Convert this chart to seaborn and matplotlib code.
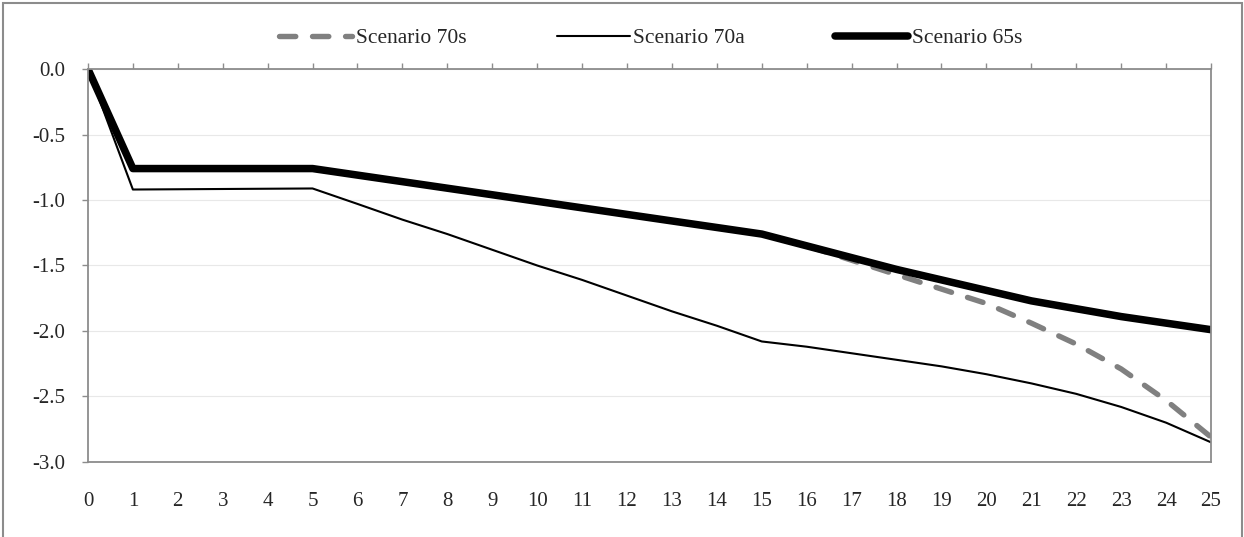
import matplotlib
matplotlib.use("Agg")
import matplotlib.pyplot as plt
import seaborn as sns
import pandas as pd
from matplotlib.patches import Rectangle

years = list(range(0, 26))
s70s = [0.0, -0.76, -0.76, -0.76, -0.76, -0.76, -0.81, -0.86, -0.91, -0.96, -1.01,
        -1.06, -1.11, -1.16, -1.21, -1.26, -1.35, -1.46, -1.57, -1.68, -1.79,
        -1.94, -2.10, -2.29, -2.53, -2.81]
s70a = [0.0, -0.92, -0.918, -0.916, -0.914, -0.912, -1.03, -1.15, -1.26, -1.38, -1.50,
        -1.61, -1.73, -1.85, -1.96, -2.08, -2.12, -2.17, -2.22, -2.27, -2.33,
        -2.40, -2.48, -2.58, -2.70, -2.85]
s65s = [0.0, -0.76, -0.76, -0.76, -0.76, -0.76, -0.81, -0.86, -0.91, -0.96, -1.01,
        -1.06, -1.11, -1.16, -1.21, -1.26, -1.35, -1.44, -1.53, -1.61, -1.69,
        -1.77, -1.83, -1.89, -1.94, -1.99]

df = pd.DataFrame({"year": years, "Scenario 70s": s70s,
                   "Scenario 70a": s70a, "Scenario 65s": s65s})

sns.set_style("white")
plt.rcParams["font.family"] = ["Liberation Serif", "DejaVu Serif"]

fig = plt.figure(figsize=(12.44, 5.37), dpi=100)
ax = fig.add_axes([0.0707, 0.1397, 0.9028, 0.7318])

ax.yaxis.grid(True, color="#e8e8e8", linewidth=0.8)
ax.set_axisbelow(True)

# dashed one first so the thick line sits on top of it
sns.lineplot(data=df, x="year", y="Scenario 70s", ax=ax, color="#808080",
             linewidth=3.9, label="Scenario 70s", dashes=(3.0, 3.1),
             dash_capstyle="round")
sns.lineplot(data=df, x="year", y="Scenario 70a", ax=ax, color="black",
             linewidth=1.5, label="Scenario 70a")
sns.lineplot(data=df, x="year", y="Scenario 65s", ax=ax, color="black",
             linewidth=5.4, label="Scenario 65s", solid_capstyle="round")

ax.set_xlim(0, 25)
ax.set_ylim(-3.0, 0.0)
ax.set_xticks(years)
yt = [0.0, -0.5, -1.0, -1.5, -2.0, -2.5, -3.0]
ax.set_yticks(yt)
ax.set_yticklabels([f"{v:.1f}" for v in yt])
ax.set_xlabel("")
ax.set_ylabel("")

for s in ax.spines.values():
    s.set_color("#8c8c8c")
    s.set_linewidth(1.3)

ax.tick_params(axis="x", bottom=False, top=True, labelbottom=True, labeltop=False,
               direction="out", length=4.5, width=1.0, color="#8c8c8c",
               labelsize=15, pad=17)
ax.tick_params(axis="y", left=True, direction="out", length=4.5, width=1.0,
               color="#8c8c8c", labelsize=15, pad=12)

ax.get_legend().remove()
handles, labels = ax.get_legend_handles_labels()
fig.legend(handles, labels,
           loc="center", bbox_to_anchor=(0.523, 0.929), ncol=3, frameon=False,
           fontsize=15.5, handlelength=3.4, handletextpad=0.15, columnspacing=4.2)

fig.add_artist(Rectangle((0.0024, -0.02), 0.996, 1.0144, transform=fig.transFigure,
                         fill=False, edgecolor="#8c8c8c", linewidth=1.5))

fig.savefig("out.png", dpi=100, facecolor="white")
